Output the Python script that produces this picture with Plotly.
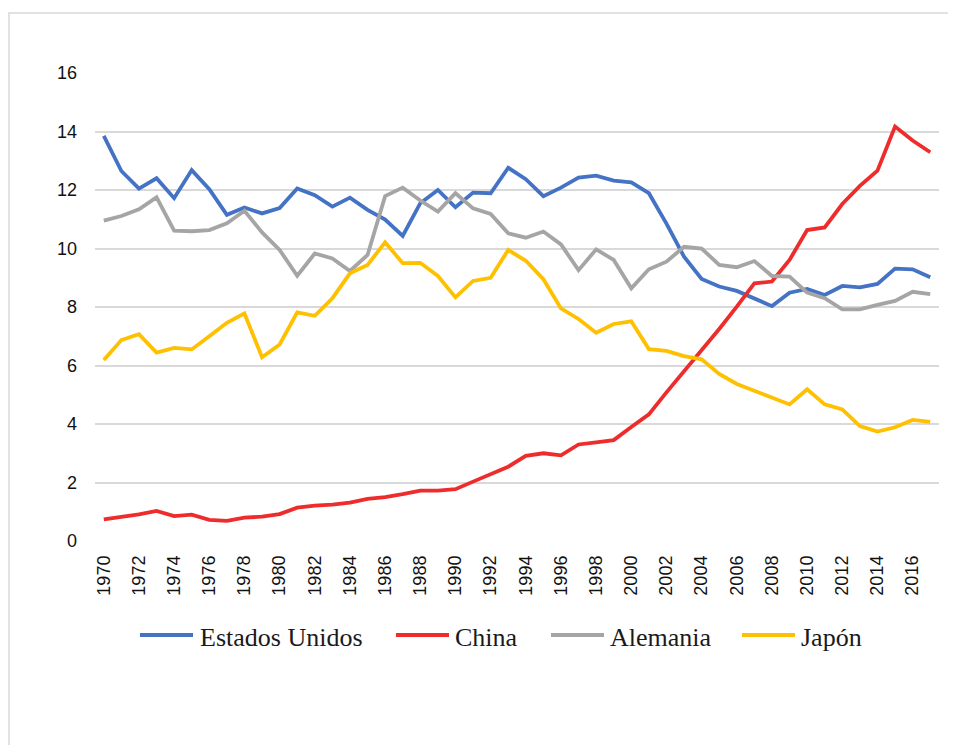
import plotly.graph_objects as go

years = list(range(1970, 2018))

estados_unidos = [13.85, 12.65, 12.05, 12.4, 11.72, 12.68, 12.03, 11.15, 11.4, 11.2,
                  11.38, 12.05, 11.82, 11.43, 11.74, 11.32, 10.99, 10.43, 11.55, 12.0,
                  11.41, 11.91, 11.89, 12.76, 12.37, 11.79, 12.08, 12.42, 12.49, 12.32,
                  12.26, 11.89, 10.85, 9.72, 8.96, 8.7, 8.55, 8.3, 8.03, 8.49,
                  8.62, 8.41, 8.72, 8.67, 8.79, 9.31, 9.29, 9.02]

china = [0.74, 0.81, 0.91, 1.03, 0.85, 0.9, 0.72, 0.69, 0.8, 0.83,
         0.92, 1.14, 1.21, 1.24, 1.31, 1.44, 1.5, 1.6, 1.72, 1.72,
         1.77, 2.03, 2.29, 2.54, 2.91, 3.0, 2.93, 3.3, 3.37, 3.45,
         3.9, 4.33, 5.08, 5.8, 6.5, 7.25, 8.01, 8.81, 8.87, 9.61,
         10.63, 10.72, 11.52, 12.14, 12.66, 14.17, 13.69, 13.29]

alemania = [10.95, 11.11, 11.34, 11.75, 10.61, 10.59, 10.63, 10.86, 11.29, 10.55,
            9.95, 9.07, 9.83, 9.66, 9.23, 9.78, 11.79, 12.08, 11.64, 11.26,
            11.89, 11.37, 11.18, 10.52, 10.37, 10.58, 10.14, 9.26, 9.97, 9.61,
            8.64, 9.29, 9.55, 10.06, 10.0, 9.44, 9.36, 9.57, 9.06, 9.04,
            8.49, 8.3, 7.92, 7.92, 8.07, 8.21, 8.52, 8.44]

japon = [6.19, 6.87, 7.07, 6.44, 6.6, 6.55, 7.0, 7.46, 7.78, 6.28,
         6.72, 7.82, 7.7, 8.3, 9.15, 9.44, 10.21, 9.5, 9.51, 9.06,
         8.33, 8.89, 9.0, 9.95, 9.58, 8.95, 7.95, 7.59, 7.12, 7.42,
         7.51, 6.56, 6.5, 6.32, 6.21, 5.71, 5.37, 5.14, 4.88, 4.67,
         5.19, 4.67, 4.5, 3.93, 3.74, 3.89, 4.14, 4.07]

series_names = ["Estados Unidos", "China", "Alemania", "Japón"]
series_values = [estados_unidos, china, alemania, japon]
series_colors = ["#4472C4", "#EE2C2C", "#A5A5A5", "#FFC000"]

tick_years = years[::2]

fig = go.Figure()
for name, vals, col in zip(series_names, series_values, series_colors):
    fig.add_trace(go.Scatter(x=years, y=vals, name=name, mode="lines",
                             line=dict(color=col, width=3.8), showlegend=False))

# figure size and margins (page has an 8px body margin)
OFF = 8
W, H = 956, 745
L, T = 95 - OFF, 73 - OFF
R = W - (939 - OFF)
B = H - (541 - OFF)
pw = W - L - R
ph = H - T - B


def px_x(px):
    """page pixel x -> paper coordinate"""
    return (px - OFF - L) / pw


def px_y(py):
    """page pixel y -> paper coordinate"""
    return (H - B - (py - OFF)) / ph


shapes = []
# outer chart border
shapes.append(dict(type="rect", xref="paper", yref="paper",
                   x0=px_x(9), x1=px_x(975), y0=px_y(760), y1=px_y(13),
                   line=dict(color="#D9D9D9", width=1.5), fillcolor="rgba(0,0,0,0)",
                   layer="below"))

# manual legend
legend_items = [(140, 193, 198), (396, 449, 453), (551, 604, 608), (742, 795, 799)]
annotations = []
ly = px_y(635)
for (x0, x1, tx), name, col in zip(legend_items, series_names, series_colors):
    shapes.append(dict(type="line", xref="paper", yref="paper",
                       x0=px_x(x0), x1=px_x(x1), y0=ly, y1=ly,
                       line=dict(color=col, width=3.8)))
    annotations.append(dict(xref="paper", yref="paper", x=px_x(tx), y=px_y(637),
                            text=name, showarrow=False, xanchor="left", yanchor="middle",
                            font=dict(family="Liberation Serif", size=26, color="#1a1a1a")))

fig.update_layout(
    width=W, height=H,
    margin=dict(l=L, r=R, t=T, b=B),
    paper_bgcolor="white", plot_bgcolor="white",
    shapes=shapes, annotations=annotations,
    xaxis=dict(range=[1969.5, 2017.5], tickvals=tick_years,
               ticktext=[str(y) for y in tick_years], tickangle=-90,
               showgrid=False, zeroline=False, showline=False, ticks="",
               tickfont=dict(family="Liberation Sans", size=18, color="#111111"),
               ticklabelstandoff=10),
    yaxis=dict(range=[0, 16], dtick=2, showgrid=True, gridcolor="#D9D9D9", gridwidth=1.6,
               zeroline=False, showline=False, ticks="",
               tickfont=dict(family="Liberation Sans", size=18, color="#111111"),
               ticklabelstandoff=17),
)

fig.write_html("out.html")
